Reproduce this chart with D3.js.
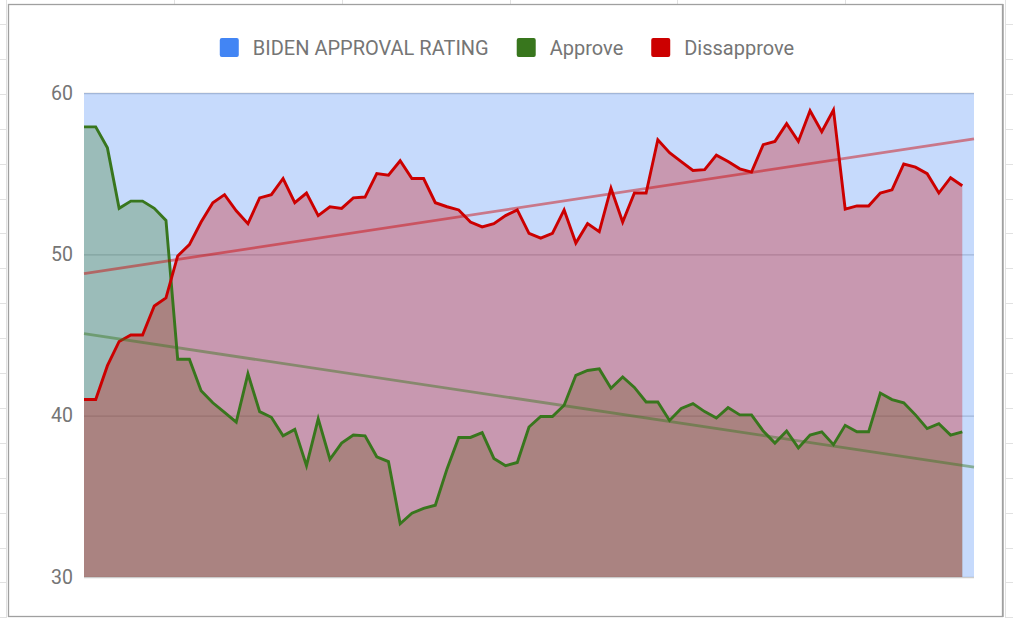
<!DOCTYPE html>
<html>
<head>
<meta charset="utf-8">
<script src="https://cdn.jsdelivr.net/npm/d3@7"></script>
<style>
  body { margin: 0; background: #fff; }
  svg { display: block; font-family: Roboto, "Noto Sans", sans-serif; }
</style>
</head>
<body>
<div id="chart"></div>
<script>
var svgWidth = 1013;
var svgHeight = 618;

// Series names and colours
var seriesNames = ["BIDEN APPROVAL RATING", "Approve", "Dissapprove"];
var seriesColors = ["#4285f4", "#38761d", "#cc0000"];
var yTicks = [30, 40, 50, 60];

// Biden series sits above the top of the axis, so it shows clipped at 60
var biden = [60, 60, 60, 60, 60, 60, 60, 60, 60, 60, 60, 60, 60, 60, 60, 60, 60, 60, 60, 60,
  60, 60, 60, 60, 60, 60, 60, 60, 60, 60, 60, 60, 60, 60, 60, 60, 60, 60, 60, 60,
  60, 60, 60, 60, 60, 60, 60, 60, 60, 60, 60, 60, 60, 60, 60, 60, 60, 60, 60, 60,
  60, 60, 60, 60, 60, 60, 60, 60, 60, 60, 60, 60, 60, 60, 60, 60, 60];

var approve = [57.9, 57.9, 56.6, 52.85, 53.3, 53.3, 52.85, 52.1, 43.5, 43.5,
  41.55, 40.8, 40.2, 39.6, 42.6, 40.25, 39.9, 38.75, 39.15, 36.9,
  39.8, 37.3, 38.3, 38.8, 38.75, 37.45, 37.15, 33.3, 33.95, 34.25,
  34.45, 36.7, 38.65, 38.65, 38.95, 37.35, 36.9, 37.1, 39.3, 39.95,
  39.95, 40.65, 42.5, 42.8, 42.9, 41.7, 42.4, 41.75, 40.85, 40.85,
  39.7, 40.45, 40.75, 40.25, 39.85, 40.5, 40.05, 40.05, 39.05, 38.3,
  39.05, 38.0, 38.8, 39.0, 38.2, 39.4, 39.0, 39.0, 41.4, 41.0,
  40.8, 40.05, 39.2, 39.5, 38.8, 39.0];

var disapprove = [41.0, 41.0, 43.1, 44.6, 45.0, 45.0, 46.8, 47.3, 49.9, 50.6,
  52.0, 53.2, 53.7, 52.7, 51.9, 53.5, 53.7, 54.7, 53.2, 53.8,
  52.4, 52.95, 52.85, 53.5, 53.55, 55.0, 54.9, 55.8, 54.7, 54.7,
  53.2, 52.95, 52.75, 52.0, 51.7, 51.9, 52.4, 52.75, 51.3, 51.0,
  51.3, 52.75, 50.7, 51.9, 51.4, 54.1, 52.0, 53.8, 53.8, 57.1,
  56.3, 55.75, 55.2, 55.25, 56.15, 55.75, 55.3, 55.1, 56.8, 57.0,
  58.1, 57.0, 58.9, 57.6, 58.95, 52.8, 53.0, 53.0, 53.8, 54.0,
  55.6, 55.4, 55.0, 53.8, 54.75, 54.25];

var svg = d3.select("#chart").append("svg")
  .attr("width", svgWidth)
  .attr("height", svgHeight);

// Spreadsheet cells peeking out around the chart
var sheet = svg.append("g").attr("stroke", "#e1e1e1").attr("stroke-width", 1);
[174, 342, 510, 677, 845].forEach(function(x) {
  sheet.append("line").attr("x1", x + 0.5).attr("x2", x + 0.5).attr("y1", 0).attr("y2", 4);
});
d3.range(24, 618, 34.9).forEach(function(y) {
  sheet.append("line").attr("x1", 0).attr("x2", 7).attr("y1", Math.round(y) + 0.5).attr("y2", Math.round(y) + 0.5);
  sheet.append("line").attr("x1", 1005).attr("x2", 1013).attr("y1", Math.round(y) + 0.5).attr("y2", Math.round(y) + 0.5);
});
sheet.append("line").attr("x1", 6.5).attr("x2", 6.5).attr("y1", 0).attr("y2", 618);
sheet.append("line").attr("x1", 1005.5).attr("x2", 1005.5).attr("y1", 0).attr("y2", 618);

// Chart frame
svg.append("rect")
  .attr("x", 8.5).attr("y", 4.5)
  .attr("width", 994).attr("height", 612)
  .attr("fill", "#fff")
  .attr("stroke", "#a0a0a0")
  .attr("stroke-width", 1.3);
svg.append("line")
  .attr("x1", 1003.5).attr("x2", 1003.5).attr("y1", 4).attr("y2", 617)
  .attr("stroke", "#b8b8b8").attr("stroke-width", 1);

// Scales
var x = d3.scaleLinear().domain([0, 76]).range([84, 974]);
var y = d3.scaleLinear().domain([30, 60]).range([577, 93]);

// Gridlines, under the areas
var yAxis = d3.axisLeft(y).tickValues(yTicks).tickSize(-(974 - 84)).tickPadding(11);
var axisG = svg.append("g")
  .attr("transform", "translate(84,0)")
  .call(yAxis);
axisG.select(".domain").remove();
axisG.selectAll(".tick line").attr("stroke", "#cccccc").attr("stroke-width", 1.4);
axisG.selectAll(".tick text")
  .attr("fill", "#757575")
  .style("font-size", "19.5px")
  .style("font-family", "Roboto, sans-serif");

// Areas
var area = d3.area()
  .x(function(d, i) { return x(i); })
  .y0(y(30))
  .y1(function(d) { return y(d); });
var line = d3.line()
  .x(function(d, i) { return x(i); })
  .y(function(d) { return y(d); });

var allSeries = [biden, approve, disapprove];
allSeries.forEach(function(s, k) {
  svg.append("path")
    .datum(s)
    .attr("d", area)
    .attr("fill", seriesColors[k])
    .attr("fill-opacity", 0.3);
});

[approve, disapprove].forEach(function(s, k) {
  svg.append("path")
    .datum(s)
    .attr("d", line)
    .attr("fill", "none")
    .attr("stroke", seriesColors[k + 1])
    .attr("stroke-width", 2.9)
    .attr("stroke-linejoin", "miter");
});

// Linear trendlines, fitted to each series and run across the whole axis
function fit(values) {
  var mx = d3.mean(values, function(d, i) { return i; });
  var my = d3.mean(values);
  var sxy = d3.sum(values, function(d, i) { return (i - mx) * (d - my); });
  var sxx = d3.sum(values, function(d, i) { return (i - mx) * (i - mx); });
  var b = sxy / sxx;
  return function(t) { return my + b * (t - mx); };
}
[approve, disapprove].forEach(function(s, k) {
  var f = fit(s);
  svg.append("line")
    .attr("x1", x(0)).attr("y1", y(f(0)))
    .attr("x2", x(76)).attr("y2", y(f(76)))
    .attr("stroke", seriesColors[k + 1])
    .attr("stroke-opacity", 0.45)
    .attr("stroke-width", 2.8);
});

// Legend
var legend = svg.append("g");
var lx = 0;
seriesNames.forEach(function(name, k) {
  var item = legend.append("g").attr("transform", "translate(" + lx + ",0)");
  item.append("rect")
    .attr("x", 0).attr("y", 38)
    .attr("width", 19).attr("height", 19)
    .attr("rx", 2)
    .attr("fill", seriesColors[k]);
  var t = item.append("text")
    .attr("x", 33).attr("y", 54.5)
    .attr("fill", "#757575")
    .style("font-size", "20px")
    .text(name);
  lx += 33 + t.node().getComputedTextLength() + 28;
});
var legendWidth = lx - 28;
legend.attr("transform", "translate(" + (507 - legendWidth / 2) + ",0)");
</script>
</body>
</html>
